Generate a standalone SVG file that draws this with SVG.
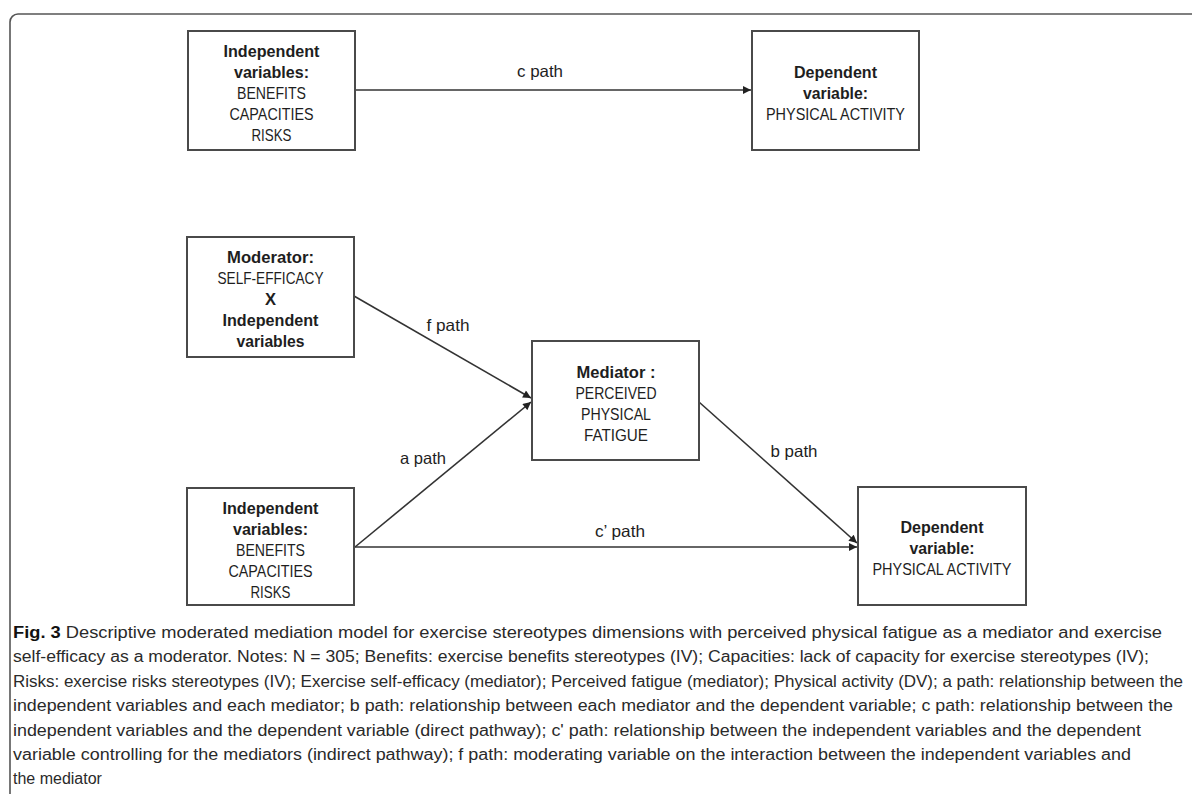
<svg xmlns="http://www.w3.org/2000/svg" width="1192" height="794" viewBox="0 0 1192 794">
<defs>
<style>
.box{fill:#fff;stroke:#4a4a4a;stroke-width:2}
.nt{font-family:"Liberation Sans",Arial,sans-serif;font-size:16.5px;fill:#1e1e1e;text-anchor:middle}
.b{font-weight:bold}
.conn{stroke:#333;stroke-width:1.6;fill:none}
.lbl{font-family:"Liberation Sans",Arial,sans-serif;font-size:16.5px;fill:#1e1e1e;text-anchor:middle}
.cap{font-family:"Liberation Sans",Arial,sans-serif;font-size:16px;fill:#2a2a2a}
</style>
<marker id="arr" viewBox="0 0 10 10" refX="10" refY="5" markerWidth="9" markerHeight="8" markerUnits="userSpaceOnUse" orient="auto">
<path d="M0,0 L10,5 L0,10 z" fill="#222"/>
</marker>
</defs>
<rect width="1192" height="794" fill="#fff"/>
<path d="M10,800 V22 A8,8 0 0 1 18,14 H1200" fill="none" stroke="#555" stroke-width="1.6"/>

<g id="connectors">
<line class="conn" x1="355" y1="90" x2="751" y2="90" marker-end="url(#arr)"/>
<line class="conn" x1="354" y1="296" x2="531" y2="398" marker-end="url(#arr)"/>
<line class="conn" x1="355" y1="547" x2="531" y2="402" marker-end="url(#arr)"/>
<line class="conn" x1="699" y1="402" x2="857" y2="543" marker-end="url(#arr)"/>
<line class="conn" x1="355" y1="547" x2="857" y2="547" marker-end="url(#arr)"/>
<text class="lbl" x="540" y="77" textLength="46" lengthAdjust="spacingAndGlyphs">c path</text>
<text class="lbl" x="448" y="331" textLength="43" lengthAdjust="spacingAndGlyphs">f path</text>
<text class="lbl" x="423" y="464" textLength="46" lengthAdjust="spacingAndGlyphs">a path</text>
<text class="lbl" x="794" y="457" textLength="47" lengthAdjust="spacingAndGlyphs">b path</text>
<text class="lbl" x="620" y="537" textLength="50" lengthAdjust="spacingAndGlyphs">c’ path</text>
</g>

<g id="iv-top">
<rect class="box" x="188" y="31" width="167" height="119"/>
<text class="nt b" x="271.5" y="57" textLength="96" lengthAdjust="spacingAndGlyphs">Independent</text>
<text class="nt b" x="271.5" y="78" textLength="75" lengthAdjust="spacingAndGlyphs">variables:</text>
<text class="nt" x="271.5" y="99" textLength="69" lengthAdjust="spacingAndGlyphs">BENEFITS</text>
<text class="nt" x="271.5" y="120" textLength="84" lengthAdjust="spacingAndGlyphs">CAPACITIES</text>
<text class="nt" x="271.5" y="141" textLength="40" lengthAdjust="spacingAndGlyphs">RISKS</text>
</g>

<g id="dv-top">
<rect class="box" x="752" y="31" width="167" height="119"/>
<text class="nt b" x="835.5" y="78" textLength="83" lengthAdjust="spacingAndGlyphs">Dependent</text>
<text class="nt b" x="835.5" y="99" textLength="65" lengthAdjust="spacingAndGlyphs">variable:</text>
<text class="nt" x="835.5" y="120" textLength="139" lengthAdjust="spacingAndGlyphs">PHYSICAL ACTIVITY</text>
</g>

<g id="moderator">
<rect class="box" x="187" y="237" width="167" height="120"/>
<text class="nt b" x="270.5" y="263" textLength="87" lengthAdjust="spacingAndGlyphs">Moderator:</text>
<text class="nt" x="270.5" y="284" textLength="106" lengthAdjust="spacingAndGlyphs">SELF-EFFICACY</text>
<text class="nt b" x="270.5" y="305">X</text>
<text class="nt b" x="270.5" y="326" textLength="96" lengthAdjust="spacingAndGlyphs">Independent</text>
<text class="nt b" x="270.5" y="347" textLength="68" lengthAdjust="spacingAndGlyphs">variables</text>
</g>

<g id="mediator">
<rect class="box" x="532" y="341" width="167" height="119"/>
<text class="nt b" x="616" y="378" textLength="79" lengthAdjust="spacingAndGlyphs">Mediator :</text>
<text class="nt" x="616" y="399" textLength="81" lengthAdjust="spacingAndGlyphs">PERCEIVED</text>
<text class="nt" x="616" y="420" textLength="70" lengthAdjust="spacingAndGlyphs">PHYSICAL</text>
<text class="nt" x="616" y="441" textLength="64" lengthAdjust="spacingAndGlyphs">FATIGUE</text>
</g>

<g id="iv-bottom">
<rect class="box" x="187" y="488" width="167" height="117"/>
<text class="nt b" x="270.5" y="514" textLength="96" lengthAdjust="spacingAndGlyphs">Independent</text>
<text class="nt b" x="270.5" y="535" textLength="75" lengthAdjust="spacingAndGlyphs">variables:</text>
<text class="nt" x="270.5" y="556" textLength="69" lengthAdjust="spacingAndGlyphs">BENEFITS</text>
<text class="nt" x="270.5" y="577" textLength="84" lengthAdjust="spacingAndGlyphs">CAPACITIES</text>
<text class="nt" x="270.5" y="598" textLength="40" lengthAdjust="spacingAndGlyphs">RISKS</text>
</g>

<g id="dv-bottom">
<rect class="box" x="858" y="487" width="168" height="118"/>
<text class="nt b" x="942" y="533" textLength="83" lengthAdjust="spacingAndGlyphs">Dependent</text>
<text class="nt b" x="942" y="554" textLength="65" lengthAdjust="spacingAndGlyphs">variable:</text>
<text class="nt" x="942" y="575" textLength="139" lengthAdjust="spacingAndGlyphs">PHYSICAL ACTIVITY</text>
</g>

<g id="caption">
<text class="cap" x="13" y="638" textLength="1149" lengthAdjust="spacingAndGlyphs"><tspan font-weight="bold" fill="#111">Fig. 3</tspan> Descriptive moderated mediation model for exercise stereotypes dimensions with perceived physical fatigue as a mediator and exercise</text>
<text class="cap" x="13" y="662" textLength="1136" lengthAdjust="spacingAndGlyphs">self-efficacy as a moderator. Notes: N = 305; Benefits: exercise benefits stereotypes (IV); Capacities: lack of capacity for exercise stereotypes (IV);</text>
<text class="cap" x="13" y="687" textLength="1170" lengthAdjust="spacingAndGlyphs">Risks: exercise risks stereotypes (IV); Exercise self-efficacy (mediator); Perceived fatigue (mediator); Physical activity (DV); a path: relationship between the</text>
<text class="cap" x="13" y="711" textLength="1160" lengthAdjust="spacingAndGlyphs">independent variables and each mediator; b path: relationship between each mediator and the dependent variable; c path: relationship between the</text>
<text class="cap" x="13" y="736" textLength="1128" lengthAdjust="spacingAndGlyphs">independent variables and the dependent variable (direct pathway); c' path: relationship between the independent variables and the dependent</text>
<text class="cap" x="13" y="760" textLength="1118" lengthAdjust="spacingAndGlyphs">variable controlling for the mediators (indirect pathway); f path: moderating variable on the interaction between the independent variables and</text>
<text class="cap" x="13" y="784">the mediator</text>
</g>
</svg>
